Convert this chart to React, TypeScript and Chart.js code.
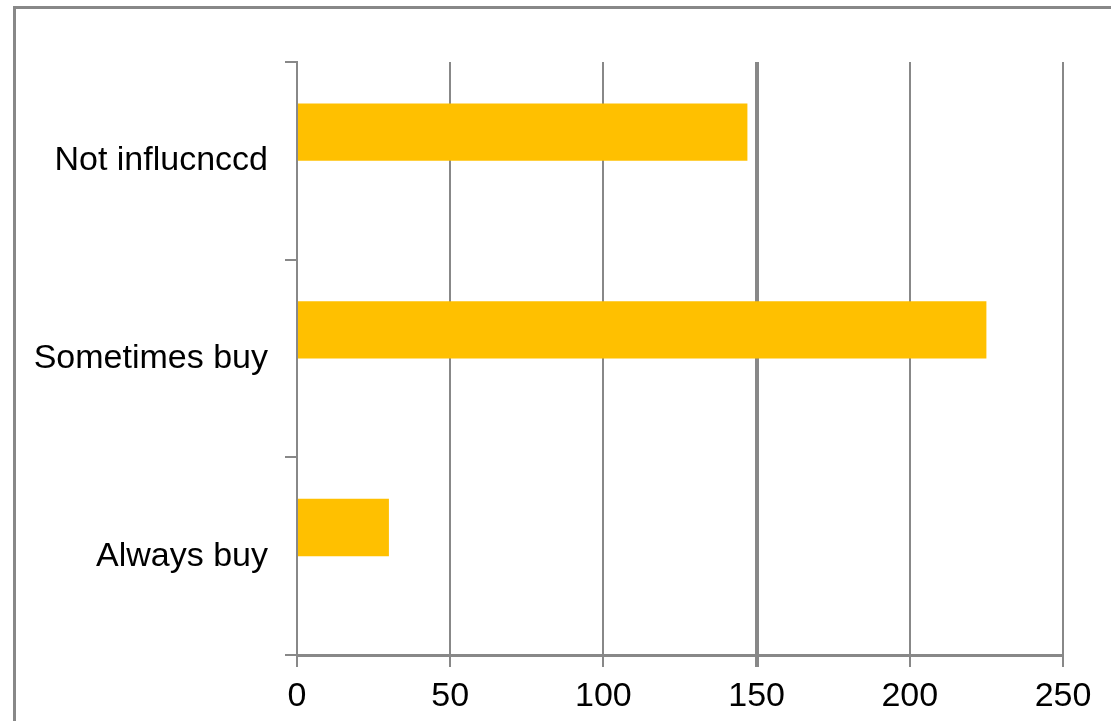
import React, { useEffect, useRef } from "react";
import { Chart, registerables } from "chart.js";

Chart.register(...registerables);

const categories = ["Not influcnccd", "Sometimes buy", "Always buy"];
const responses = [147, 225, 30];
const emptySeries = [null, null, null];
const xTicks = [0, 50, 100, 150, 200, 250];

const GRAY = "#888888";
const GOLD = "#FFC000";
const FONT = "'Liberation Sans', Arial, sans-serif";

const frame = {
  id: "frame",
  afterDraw(chart: any) {
    const ctx = chart.ctx;
    ctx.save();
    ctx.strokeStyle = GRAY;
    ctx.lineWidth = 3;
    ctx.strokeRect(14.5, 7.5, 3000, 3000);
    ctx.restore();
  },
};

export default function App() {
  const ref = useRef<HTMLCanvasElement | null>(null);

  useEffect(() => {
    document.body.style.margin = "0";
    const canvas = ref.current;
    if (!canvas) return;
    const chart = new Chart(canvas, {
      type: "bar",
      data: {
        labels: categories,
        datasets: [
          {
            data: responses,
            backgroundColor: GOLD,
            borderWidth: 0,
            barPercentage: 1,
            categoryPercentage: 0.58,
          },
          {
            data: emptySeries as any,
            backgroundColor: GOLD,
            borderWidth: 0,
            barPercentage: 1,
            categoryPercentage: 0.58,
          },
        ],
      },
      options: {
        indexAxis: "y",
        responsive: false,
        animation: false,
        layout: { padding: { left: 0, top: 62, right: 48, bottom: 0 } },
        plugins: {
          legend: { display: false },
          tooltip: { enabled: false },
          title: { display: false },
        },
        scales: {
          x: {
            min: 0,
            max: 250,
            afterBuildTicks: (scale: any) => {
              scale.ticks = xTicks.map((v) => ({ value: v }));
            },
            afterFit: (scale: any) => {
              scale.height = 66;
            },
            grid: {
              color: GRAY,
              lineWidth: (c: any) => (c.tick && c.tick.value === 150 ? 4 : 2),
              tickLength: 12,
              drawTicks: true,
            },
            border: { display: true, color: GRAY, width: 3 },
            ticks: {
              color: "#000",
              font: { family: FONT, size: 34 },
              padding: 9,
              maxRotation: 0,
              autoSkip: false,
            },
          },
          y: {
            afterFit: (scale: any) => {
              scale.width = 297;
            },
            grid: {
              color: GRAY,
              lineWidth: 2,
              drawOnChartArea: false,
              tickLength: 12,
              offset: true,
            },
            border: { display: true, color: GRAY, width: 2 },
            ticks: {
              color: "#000",
              font: { family: FONT, size: 34 },
              padding: 17,
              autoSkip: false,
            },
          },
        },
      },
      plugins: [frame],
    } as any);
    return () => chart.destroy();
  }, []);

  return (
    <div style={{ width: 1111, height: 721 }}>
      <canvas ref={ref} width={1111} height={721} style={{ display: "block" }} />
    </div>
  );
}
